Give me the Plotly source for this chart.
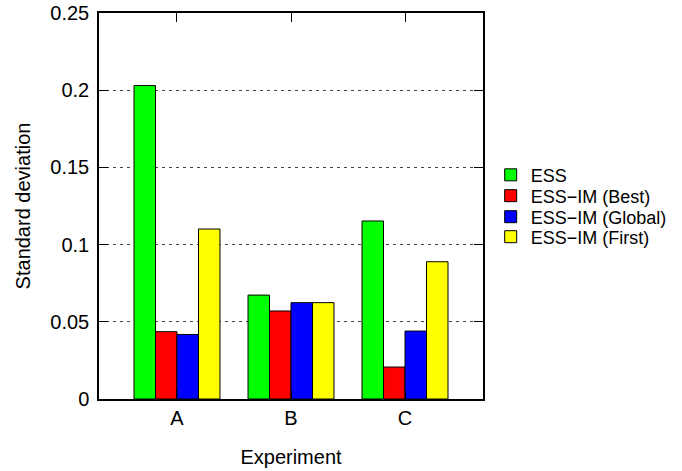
import plotly.graph_objects as go

experiments = ["A", "B", "C"]
series_names = ["ESS", "ESS\u2212IM (Best)", "ESS\u2212IM (Global)", "ESS\u2212IM (First)"]
ess = [0.203, 0.0673, 0.1153]
ess_im_best = [0.0436, 0.0570, 0.0207]
ess_im_global = [0.0418, 0.0624, 0.0440]
ess_im_first = [0.1101, 0.0624, 0.0889]
colors = ["#00ff00", "#ff0000", "#0000ff", "#ffff00"]

series_values = [ess, ess_im_best, ess_im_global, ess_im_first]
xpos = list(range(len(experiments)))

FONT = "Liberation Sans, Arial, sans-serif"
legend_ids = ["legend", "legend2", "legend3", "legend4"]
legend_y = [0.580, 0.526, 0.4715, 0.4197]

fig = go.Figure()
for name, vals, col, lg in zip(series_names, series_values, colors, legend_ids):
    fig.add_trace(go.Bar(
        x=xpos, y=vals, name=name, legend=lg,
        marker=dict(color=col, line=dict(color="black", width=1)),
        hoverinfo="skip",
    ))

legend_common = dict(
    x=1.02, xanchor="left", yanchor="middle",
    font=dict(family=FONT, size=18, color="black"),
    itemwidth=30, bgcolor="rgba(0,0,0,0)",
)
layout_legends = {lg: dict(legend_common, y=yy) for lg, yy in zip(legend_ids, legend_y)}

fig.update_layout(
    width=682, height=471,
    margin=dict(l=99, r=199, t=13, b=72, autoexpand=False),
    paper_bgcolor="white", plot_bgcolor="white",
    barmode="group", bargap=0.246, bargroupgap=0,
    font=dict(family=FONT, size=20, color="black"),
    showlegend=True,
    **layout_legends,
)
fig.update_xaxes(
    range=[-0.684, 2.684], automargin=False,
    tickmode="array", tickvals=xpos, ticktext=experiments,
    ticks="inside", ticklen=9, tickcolor="black", tickwidth=1,
    showline=True, linecolor="black", linewidth=1.5, mirror="ticks",
    showgrid=False, zeroline=False,
    title=dict(text="Experiment", standoff=22, font=dict(size=20)),
    tickfont=dict(size=20),
)
fig.update_yaxes(
    range=[0, 0.25], automargin=False,
    tickvals=[0, 0.05, 0.1, 0.15, 0.2, 0.25],
    ticktext=["0", "0.05", "0.1", "0.15", "0.2", "0.25"],
    ticks="inside", ticklen=9, tickcolor="black", tickwidth=1,
    showline=True, linecolor="black", linewidth=1.5, mirror="ticks",
    showgrid=True, gridcolor="#444444", gridwidth=1, griddash="3px,4px",
    zeroline=False,
    title=dict(text="Standard deviation", standoff=14, font=dict(size=20)),
    tickfont=dict(size=20),
    ticklabelstandoff=4,
    ticklabeloverflow="allow",
)

fig.write_html(
    "out.html",
    config={"displayModeBar": False},
    post_script="document.body.style.margin='0';",
)
